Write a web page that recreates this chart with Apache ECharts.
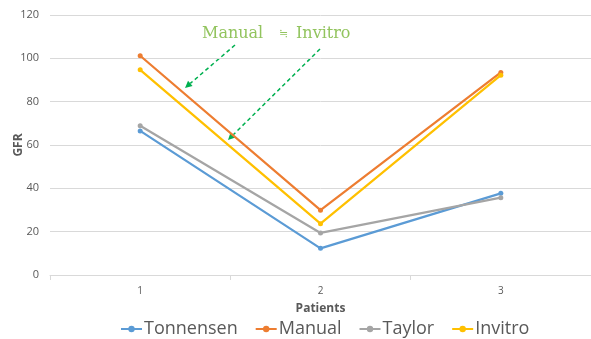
<!DOCTYPE html>
<html>
<head>
<meta charset="utf-8">
<script src="https://cdn.jsdelivr.net/npm/echarts@6/dist/echarts.min.js"></script>
<style>
  html, body { margin: 0; padding: 0; background: #fff; }
  #chart { width: 591px; height: 339px; }
</style>
</head>
<body>
<div id="chart"></div>
<script>
// GFR per patient, by estimation method
const patients = ['1', '2', '3'];
const tonnensen = [66.5, 12.3, 37.7];
const manual = [101.2, 29.9, 93.5];
const taylor = [68.9, 19.4, 35.7];
const invitro = [94.7, 23.7, 92.2];
const yTicks = { min: 0, max: 120, interval: 20 };

const colors = ['#5B9BD5', '#ED7D31', '#A5A5A5', '#FFC000'];

function lineSeries(name, data, color) {
  return {
    name: name,
    type: 'line',
    data: data,
    symbol: 'circle',
    symbolSize: 5,
    lineStyle: { width: 2.25, color: color },
    itemStyle: { color: color },
    emphasis: { disabled: true }
  };
}

const chart = echarts.init(document.getElementById('chart'), null, { renderer: 'canvas' });

// dashed green pointer arrow drawn as a line plus a filled head
function arrow(x1, y1, x2, y2) {
  const ang = Math.atan2(y2 - y1, x2 - x1);
  const L = 7, W = 3.5;
  const bx = x2 - L * Math.cos(ang), by = y2 - L * Math.sin(ang);
  const px = -Math.sin(ang) * W, py = Math.cos(ang) * W;
  return [
    {
      type: 'line',
      shape: { x1: x1, y1: y1, x2: bx, y2: by },
      style: { stroke: '#00B050', lineWidth: 1.5, lineDash: [4, 3] }
    },
    {
      type: 'polygon',
      shape: { points: [[x2, y2], [bx + px, by + py], [bx - px, by - py]] },
      style: { fill: '#00B050' }
    }
  ];
}

const noteStyle = { fontFamily: 'DejaVu Serif', fontSize: 16, fill: '#92C45E' };

chart.setOption({
  animation: false,
  color: colors,
  grid: { left: 50, right: 0, top: 15, bottom: 64, containLabel: false, outerBoundsMode: 'none' },
  legend: {
    top: 315,
    left: 115,
    itemGap: 17,
    itemWidth: 21,
    itemHeight: 8,
    textStyle: { fontFamily: 'Open Sans', fontSize: 18, color: '#595959', padding: [0, 0, 0, -3] },
    data: ['Tonnensen', 'Manual', 'Taylor', 'Invitro']
  },
  xAxis: {
    type: 'category',
    data: patients,
    boundaryGap: true,
    name: 'Patients',
    nameLocation: 'middle',
    nameGap: 28,
    nameMoveOverlap: false,
    nameTextStyle: { fontFamily: 'Open Sans', fontWeight: 'bold', fontSize: 12, color: '#595959' },
    axisLine: { lineStyle: { color: '#D9D9D9', width: 1 } },
    axisTick: { show: true, length: 5, lineStyle: { color: '#D9D9D9' } },
    axisLabel: { fontFamily: 'Open Sans', fontSize: 10, color: '#595959', margin: 11 }
  },
  yAxis: {
    type: 'value',
    min: yTicks.min,
    max: yTicks.max,
    interval: yTicks.interval,
    name: 'GFR',
    nameLocation: 'middle',
    nameGap: 25,
    nameMoveOverlap: false,
    nameTextStyle: { fontFamily: 'Open Sans', fontWeight: 'bold', fontSize: 12, color: '#595959' },
    axisLine: { show: false },
    axisTick: { show: false },
    axisLabel: { fontFamily: 'Open Sans', fontSize: 11, color: '#595959', margin: 11 },
    splitLine: { lineStyle: { color: '#D9D9D9', width: 1 } }
  },
  series: [
    lineSeries('Tonnensen', tonnensen, colors[0]),
    lineSeries('Manual', manual, colors[1]),
    lineSeries('Taylor', taylor, colors[2]),
    lineSeries('Invitro', invitro, colors[3])
  ],
  graphic: [
    { type: 'text', left: 202, top: 26, style: Object.assign({ text: 'Manual' }, noteStyle) },
    { type: 'text', left: 279, top: 29, style: Object.assign({}, noteStyle, { text: '≒', fontSize: 11 }) },
    { type: 'text', left: 296, top: 26, style: Object.assign({ text: 'Invitro' }, noteStyle) }
  ].concat(arrow(235, 45, 185, 88), arrow(320, 49, 228, 140))
});
</script>
</body>
</html>
